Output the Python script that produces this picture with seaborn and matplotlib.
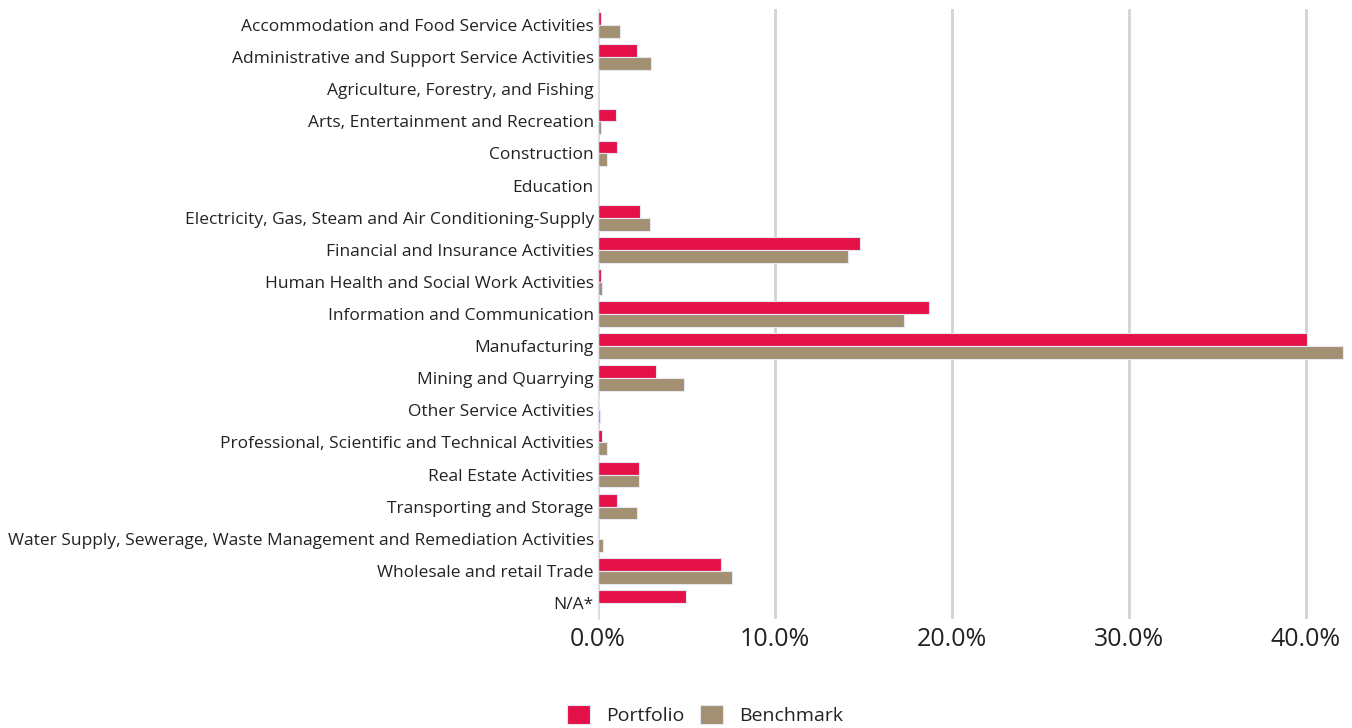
import matplotlib
matplotlib.use("Agg")
import matplotlib.pyplot as plt
import matplotlib.ticker as mticker
import pandas as pd
import seaborn as sns

sectors = [
    "Accommodation and Food Service Activities",
    "Administrative and Support Service Activities",
    "Agriculture, Forestry, and Fishing",
    "Arts, Entertainment and Recreation",
    "Construction",
    "Education",
    "Electricity, Gas, Steam and Air Conditioning-Supply",
    "Financial and Insurance Activities",
    "Human Health and Social Work Activities",
    "Information and Communication",
    "Manufacturing",
    "Mining and Quarrying",
    "Other Service Activities",
    "Professional, Scientific and Technical Activities",
    "Real Estate Activities",
    "Transporting and Storage",
    "Water Supply, Sewerage, Waste Management and Remediation Activities",
    "Wholesale and retail Trade",
    "N/A*",
]
portfolio = [0.17, 2.2, 0.0, 1.0, 1.1, 0.0, 2.4, 14.8, 0.15, 18.7, 40.05,
             3.3, 0.05, 0.25, 2.3, 1.05, 0.0, 6.95, 4.95]
benchmark = [1.25, 3.0, 0.0, 0.15, 0.5, 0.0, 2.95, 14.1, 0.2, 17.3, 42.1,
             4.85, 0.1, 0.5, 2.3, 2.2, 0.3, 7.55, 0.0]

df = pd.DataFrame({"sector": sectors, "Portfolio": portfolio, "Benchmark": benchmark})
long_df = df.melt(id_vars="sector", var_name="series", value_name="weight")

sns.set_theme(style="white")
plt.rcParams["font.family"] = ["Open Sans", "DejaVu Sans"]

fig = plt.figure(figsize=(13.52, 7.28), dpi=100)
ax = fig.add_axes([598 / 1352, 1 - 619 / 728, 747 / 1352, 610 / 728])

palette = {"Portfolio": "#E31148", "Benchmark": "#A38F72"}
sns.barplot(data=long_df, y="sector", x="weight", hue="series", palette=palette,
            order=sectors, hue_order=["Portfolio", "Benchmark"], width=0.8,
            edgecolor="#E4E6F0", linewidth=0.8, saturation=1, ax=ax)

ax.set_xlim(0, 42.2)
ax.set_ylim(len(sectors) - 0.5, -0.5)
ax.xaxis.set_major_locator(mticker.MultipleLocator(10))
ax.xaxis.set_major_formatter(mticker.FuncFormatter(lambda v, _: f"{v:.1f}%"))
ax.grid(axis="x", color="#D3D3D3", linewidth=2)
ax.set_axisbelow(True)
for side in ["top", "right", "bottom"]:
    ax.spines[side].set_visible(False)
ax.spines["left"].set_color("#E0E3EE")
ax.spines["left"].set_linewidth(1)
ax.set_xlabel("")
ax.set_ylabel("")
ax.tick_params(axis="y", length=0, pad=3, labelsize=12.5, colors="#222222")
ax.tick_params(axis="x", length=0, pad=6, labelsize=18, colors="#222222")

handles, labels = ax.get_legend_handles_labels()
ax.legend(handles, labels, loc="lower center", bbox_to_anchor=(705 / 1352, 0.004),
          bbox_transform=fig.transFigure, ncol=2, frameon=False, fontsize=14,
          handlelength=1.2, handleheight=1.2, handletextpad=0.8, columnspacing=0.8,
          borderaxespad=0.0, borderpad=0.0)
for t in ax.get_legend().get_texts():
    t.set_color("#222222")

fig.savefig("out.png", dpi=100)
